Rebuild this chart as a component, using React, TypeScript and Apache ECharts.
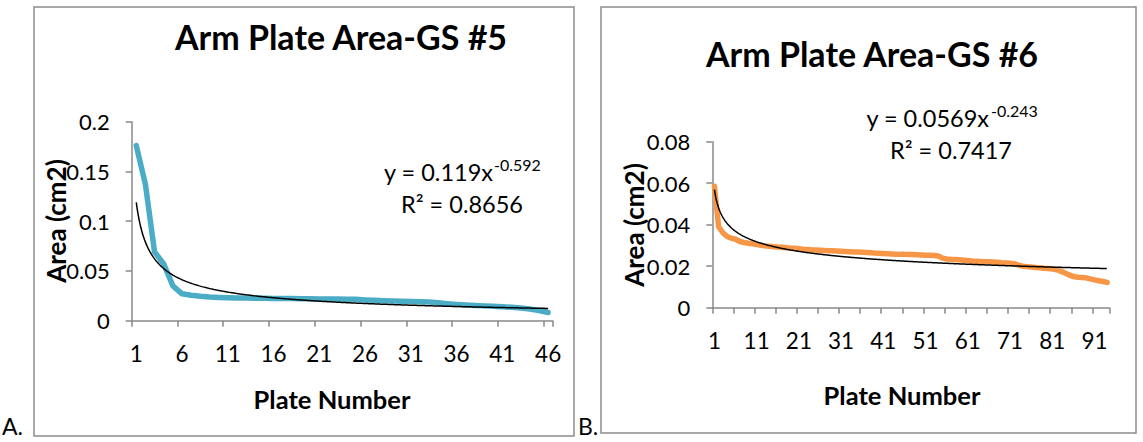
import React, { useEffect, useRef } from "react";
import * as echarts from "echarts";

const CATEGORIES_A = Array.from({ length: 46 }, (_, i) => String(i + 1));
const CATEGORIES_B = Array.from({ length: 94 }, (_, i) => String(i + 1));

const VALUES_A = [
  0.176, 0.137, 0.069, 0.057, 0.035, 0.027, 0.0255, 0.0245, 0.0238, 0.0234,
  0.0231, 0.0229, 0.0227, 0.0226, 0.0225, 0.0224, 0.0223, 0.0222, 0.0221, 0.022,
  0.0219, 0.0218, 0.0217, 0.0216, 0.0215, 0.0209, 0.0205, 0.0201, 0.0198, 0.0195,
  0.0192, 0.019, 0.0188, 0.0181, 0.0171, 0.0163, 0.0157, 0.0152, 0.0149, 0.0145,
  0.014, 0.0135, 0.0127, 0.0117, 0.0102, 0.0083,
];

const VALUES_B = [
  0.0585, 0.039, 0.0361, 0.0343, 0.0335, 0.033, 0.0319, 0.0314, 0.0311, 0.0308,
  0.0305, 0.0301, 0.0298, 0.0296, 0.0294, 0.0292, 0.0291, 0.0289, 0.0287, 0.0286,
  0.0284, 0.0282, 0.0281, 0.0279, 0.0278, 0.0277, 0.0276, 0.0275, 0.0274, 0.0273,
  0.0272, 0.0271, 0.027, 0.0269, 0.0268, 0.0267, 0.0266, 0.0265, 0.0263, 0.0262,
  0.0261, 0.026, 0.0259, 0.0258, 0.0257, 0.0257, 0.0256, 0.0256, 0.0255, 0.0254,
  0.0253, 0.0253, 0.0252, 0.0249, 0.0239, 0.0235, 0.0233, 0.0232, 0.0231, 0.0229,
  0.0227, 0.0225, 0.0224, 0.0223, 0.0222, 0.0221, 0.022, 0.0219, 0.0217, 0.0216,
  0.0214, 0.0212, 0.0205, 0.02, 0.0198, 0.0196, 0.0194, 0.0192, 0.019, 0.0189,
  0.0187, 0.0183, 0.0176, 0.0167, 0.0158, 0.015, 0.0147, 0.0146, 0.0144, 0.0139,
  0.0134, 0.013, 0.0126, 0.0122,
];

// Power trendlines as printed on the chart: y = a * x^b
const TREND_A = { a: 0.119, b: -0.592, r2: "0.8656" };
const TREND_B = { a: 0.0569, b: -0.243, r2: "0.7417" };

const TITLE_A = "Arm Plate Area-GS #5";
const TITLE_B = "Arm Plate Area-GS #6";
const X_NAME = "Plate Number";
const Y_NAME = "Area (cm2)";

const FONT = "Lato, 'Noto Sans', sans-serif";
const AXIS_COLOR = "#898989";

function trendPoints(t: { a: number; b: number }, n: number) {
  const pts: number[][] = [];
  for (let x = 1; x <= n + 1e-9; x += 0.1) {
    pts.push([x, t.a * Math.pow(x, t.b)]);
  }
  return pts;
}

function catAxis(gridIndex: number, data: string[], labelInterval: number) {
  return {
    type: "category",
    gridIndex,
    data,
    boundaryGap: true,
    axisLine: { show: true, lineStyle: { color: AXIS_COLOR, width: 1.5 } },
    axisTick: { show: true, interval: 4, length: 6, lineStyle: { color: AXIS_COLOR, width: 1.5 } },
    axisLabel: { interval: labelInterval, margin: 21, fontSize: 22.5, color: "#000", fontFamily: FONT },
    splitLine: { show: false },
  };
}

function valAxis(gridIndex: number, max: number, interval: number) {
  return {
    type: "value",
    gridIndex,
    min: 0,
    max,
    interval,
    axisLine: { show: true, lineStyle: { color: AXIS_COLOR, width: 1.5 } },
    axisTick: { show: true, length: 6, lineStyle: { color: AXIS_COLOR, width: 1.5 } },
    axisLabel: { margin: 22, fontSize: 22, color: "#000", fontFamily: FONT },
    splitLine: { show: false },
  };
}

function txt(text: string, x: number, y: number, size: number, opts: any = {}) {
  return {
    type: "text",
    x,
    y,
    rotation: opts.rotation || 0,
    z: 10,
    style: {
      text,
      fill: "#000",
      fontSize: size,
      fontWeight: opts.bold ? "bold" : "normal",
      fontFamily: FONT,
      align: opts.align || "center",
      verticalAlign: "middle",
    },
  };
}

export default function App() {
  const ref = useRef<HTMLDivElement>(null);
  useEffect(() => {
    if (!ref.current) return;
    const chart = echarts.init(ref.current, undefined, { renderer: "svg" });
    const option: any = {
      animation: false,
      backgroundColor: "#fff",
      grid: [
        { left: 131.7, top: 121.7, width: 421, height: 199 },
        { left: 712.3, top: 141.7, width: 397, height: 166 },
      ],
      xAxis: [
        catAxis(0, CATEGORIES_A, 4),
        { type: "value", gridIndex: 0, min: 0.5, max: CATEGORIES_A.length + 0.5, show: false },
        catAxis(1, CATEGORIES_B, 9),
        { type: "value", gridIndex: 1, min: 0.5, max: CATEGORIES_B.length + 0.5, show: false },
      ],
      yAxis: [valAxis(0, 0.2, 0.05), valAxis(1, 0.08, 0.02)],
      series: [
        {
          type: "line",
          xAxisIndex: 0,
          yAxisIndex: 0,
          data: VALUES_A,
          symbol: "none",
          lineStyle: { width: 5.5, color: "#4BACC6", cap: "round", join: "round" },
        },
        {
          type: "line",
          xAxisIndex: 1,
          yAxisIndex: 0,
          data: trendPoints(TREND_A, CATEGORIES_A.length),
          symbol: "none",
          lineStyle: { width: 1.5, color: "#000" },
        },
        {
          type: "line",
          xAxisIndex: 2,
          yAxisIndex: 1,
          data: VALUES_B,
          symbol: "none",
          lineStyle: { width: 5.5, color: "#F79646", cap: "round", join: "round" },
        },
        {
          type: "line",
          xAxisIndex: 3,
          yAxisIndex: 1,
          data: trendPoints(TREND_B, CATEGORIES_B.length),
          symbol: "none",
          lineStyle: { width: 1.5, color: "#000" },
        },
      ],
      graphic: [
        { type: "rect", shape: { x: 34, y: 7, width: 540, height: 429 }, style: { fill: "none", stroke: "#8c8c8c", lineWidth: 1.5 } },
        { type: "rect", shape: { x: 601, y: 7, width: 535, height: 426 }, style: { fill: "none", stroke: "#8c8c8c", lineWidth: 1.5 } },
        txt(TITLE_A, 341, 36, 34, { bold: true }),
        txt(TITLE_B, 872, 53, 34, { bold: true }),
        txt("y = " + TREND_A.a + "x", 493, 172, 23.5, { align: "right" }),
        txt(String(TREND_A.b), 494, 164, 16, { align: "left" }),
        txt("R\u00b2 = " + TREND_A.r2, 462, 204, 23.5),
        txt("y = " + TREND_B.a + "x", 989, 118, 23.5, { align: "right" }),
        txt(String(TREND_B.b), 991, 110, 16, { align: "left" }),
        txt("R\u00b2 = " + TREND_B.r2, 951, 150, 23.5),
        txt(Y_NAME, 56, 221, 26, { bold: true, rotation: Math.PI / 2 }),
        txt(Y_NAME, 634, 225, 26, { bold: true, rotation: Math.PI / 2 }),
        txt(X_NAME, 332, 399, 25.5, { bold: true }),
        txt(X_NAME, 902, 395, 25.5, { bold: true }),
        txt("A.", 2, 426, 23, { align: "left" }),
        txt("B.", 578, 426, 23, { align: "left" }),
      ],
    };
    chart.setOption(option);
    return () => chart.dispose();
  }, []);
  return (
    <div
      ref={ref}
      style={{ position: "fixed", left: 0, top: 0, width: 1143, height: 442, background: "#fff" }}
    />
  );
}
